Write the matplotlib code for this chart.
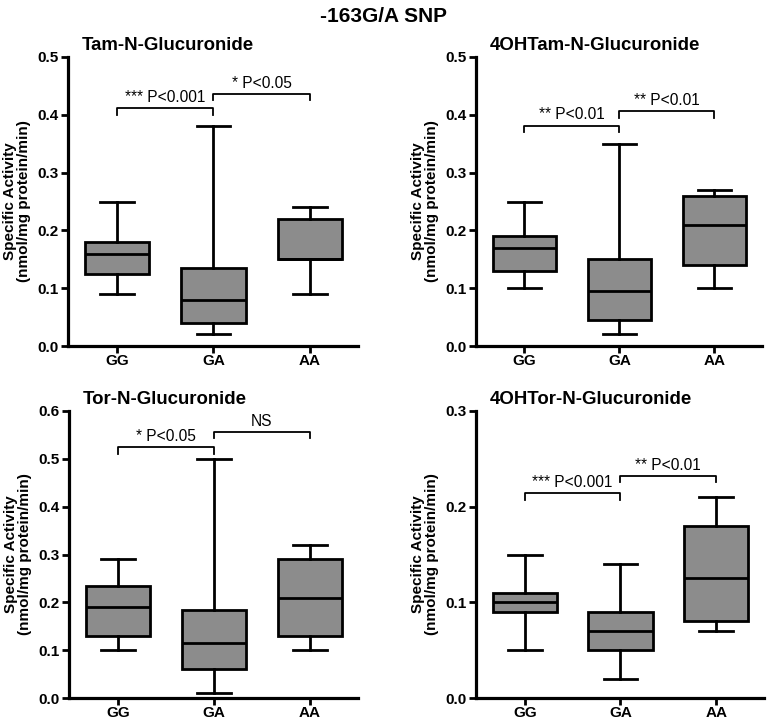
import matplotlib
matplotlib.use("Agg")
import matplotlib.pyplot as plt

plt.rcParams['font.family'] = ['Liberation Sans', 'DejaVu Sans']

GENOTYPES = ["GG", "GA", "AA"]
TITLES = ["Tam-N-Glucuronide", "4OHTam-N-Glucuronide",
          "Tor-N-Glucuronide", "4OHTor-N-Glucuronide"]
YMAX = [0.5, 0.5, 0.6, 0.3]
YSTEP = [0.1, 0.1, 0.1, 0.1]

# per panel: (whislo, q1, med, q3, whishi) for GG, GA, AA
tam_stats    = [(0.09, 0.125, 0.16, 0.18, 0.25),
                (0.02, 0.04, 0.08, 0.135, 0.38),
                (0.09, 0.15, 0.15, 0.22, 0.24)]
ohtam_stats  = [(0.10, 0.13, 0.17, 0.19, 0.25),
                (0.02, 0.045, 0.095, 0.15, 0.35),
                (0.10, 0.14, 0.21, 0.26, 0.27)]
tor_stats    = [(0.10, 0.13, 0.19, 0.235, 0.29),
                (0.01, 0.06, 0.115, 0.185, 0.50),
                (0.10, 0.13, 0.21, 0.29, 0.32)]
ohtor_stats  = [(0.05, 0.09, 0.10, 0.11, 0.15),
                (0.02, 0.05, 0.07, 0.09, 0.14),
                (0.07, 0.08, 0.125, 0.18, 0.21)]
ALL_STATS = [tam_stats, ohtam_stats, tor_stats, ohtor_stats]

# significance brackets: (label GG-GA, y), (label GA-AA, y)
sig_left  = [("*** P<0.001", 0.411), ("** P<0.01", 0.381),
             ("* P<0.05", 0.524), ("*** P<0.001", 0.214)]
sig_right = [("* P<0.05", 0.436), ("** P<0.01", 0.406),
             ("NS", 0.556), ("** P<0.01", 0.232)]

W, H = 768, 721
fig = plt.figure(figsize=(W / 100, H / 100), dpi=100)
fig.text(0.5, 1 - 16 / H, "-163G/A SNP", ha="center", va="center",
         fontsize=15, fontweight="bold")

# axes boxes in pixels: left, top, right, bottom
boxes_px = [(68, 57, 358, 346), (476, 57, 762, 346),
            (69, 411, 358, 698), (476, 411, 764, 698)]

for i, (l, t, r, b) in enumerate(boxes_px):
    ax = fig.add_axes([l / W, 1 - b / H, (r - l) / W, (b - t) / H])
    stats = []
    for g, (lo, q1, med, q3, hi) in zip(GENOTYPES, ALL_STATS[i]):
        stats.append(dict(label=g, whislo=lo, q1=q1, med=med, q3=q3, whishi=hi, fliers=[]))
    lw = 2.0
    ax.bxp(stats, positions=[1, 2, 3], widths=0.67, patch_artist=True,
           showfliers=False,
           boxprops=dict(facecolor="#8c8c8c", edgecolor="black", linewidth=lw),
           medianprops=dict(color="black", linewidth=lw),
           whiskerprops=dict(color="black", linewidth=lw),
           capprops=dict(color="black", linewidth=lw),
           capwidths=0.35)
    ymax = YMAX[i]
    ax.set_ylim(0, ymax)
    ax.set_xlim(0.49, 3.5)
    n = int(round(ymax / YSTEP[i]))
    ticks = [k * YSTEP[i] for k in range(n + 1)]
    ax.set_yticks(ticks)
    ax.set_yticklabels([f"{v:.1f}" for v in ticks])
    ax.set_xticks([1, 2, 3])
    ax.set_xticklabels(GENOTYPES)
    for lab in ax.get_xticklabels() + ax.get_yticklabels():
        lab.set_fontweight("bold")
        lab.set_fontsize(11)
    ax.tick_params(direction="out", length=5, width=2, pad=2)
    ax.tick_params(axis="x", pad=1)
    for s in ["top", "right"]:
        ax.spines[s].set_visible(False)
    for s in ["left", "bottom"]:
        ax.spines[s].set_linewidth(2.3)
    ax.set_ylabel("Specific Activity\n(nmol/mg protein/min)", fontsize=11,
                  fontweight="bold", labelpad=4, linespacing=1.05)
    ax.text(0.048, 1 + 11 / (b - t), TITLES[i], transform=ax.transAxes,
            ha="left", va="center", fontsize=13.4, fontweight="bold")

    # brackets
    tip = ymax * 0.022
    for (label, y), (x0, x1) in [(sig_left[i], (1, 2)), (sig_right[i], (2, 3))]:
        ax.plot([x0, x0, x1, x1], [y - tip, y, y, y - tip], color="black",
                linewidth=1.3, clip_on=False)
        ax.text((x0 + x1) / 2, y + ymax * 0.012, label, ha="center", va="bottom",
                fontsize=11.2)

fig.savefig("out.png", dpi=100)
